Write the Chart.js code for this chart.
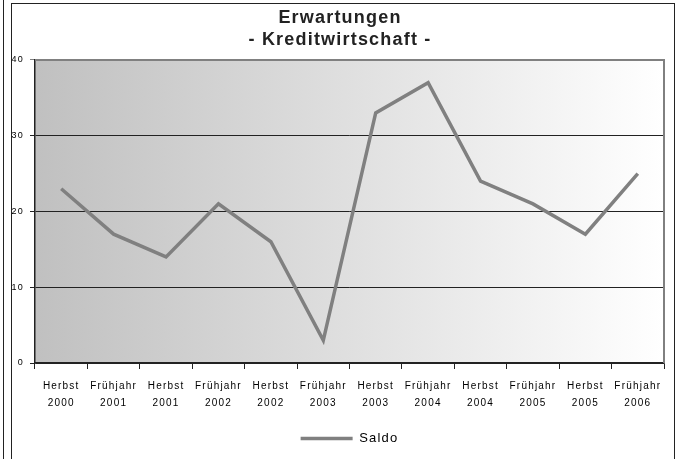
<!DOCTYPE html>
<html>
<head>
<meta charset="utf-8">
<script src="https://cdn.jsdelivr.net/npm/chart.js@4/dist/chart.umd.min.js"></script>
<style>
    body { margin: 0; background: #fff; }
    #wrap { position: relative; width: 679px; height: 459px; overflow: hidden; }
    canvas { position: absolute; left: 0; top: 0; }
    .frame { position: absolute; pointer-events: none; }
    #outerLine { left: 3px; top: 0; width: 1px; height: 459px; background: #222; }
    #chartBox { left: 11px; top: 3px; width: 662px; height: 470px; border: 1px solid #222; }
</style>
</head>
<body>
<div id="wrap">
    <canvas id="saldoChart" width="679" height="459"></canvas>
    <div class="frame" id="outerLine"></div>
    <div class="frame" id="chartBox"></div>
</div>
<script>
let seasons = ['Herbst', 'Frühjahr', 'Herbst', 'Frühjahr', 'Herbst', 'Frühjahr',
               'Herbst', 'Frühjahr', 'Herbst', 'Frühjahr', 'Herbst', 'Frühjahr'];
let years = ['2000', '2001', '2001', '2002', '2002', '2003',
             '2003', '2004', '2004', '2005', '2005', '2006'];
let saldo = [23, 17, 14, 21, 16, 3, 33, 37, 24, 21, 17, 25];
let yTicks = [0, 10, 20, 30, 40];

let labels = seasons.map((s, i) => [s, years[i]]);

// the old office export spaces its letters out a bit
const spacing = {
    id: 'spacing',
    beforeUpdate(chart) { chart.ctx.letterSpacing = '1.2px'; },
    beforeDraw(chart) { chart.ctx.letterSpacing = '1.2px'; }
};

// plot area: grey gradient behind, grey frame on top/right
const plotArea = {
    id: 'plotArea',
    beforeDraw(chart) {
        let a = chart.chartArea;
        let ctx = chart.ctx;
        let grad = ctx.createLinearGradient(a.left, 0, a.right, 0);
        grad.addColorStop(0, '#c0c0c0');
        grad.addColorStop(1, '#ffffff');
        ctx.save();
        ctx.fillStyle = grad;
        ctx.fillRect(a.left, a.top, a.right - a.left, a.bottom - a.top);
        ctx.restore();
    },
    afterDraw(chart) {
        let a = chart.chartArea;
        let ctx = chart.ctx;
        ctx.save();
        ctx.strokeStyle = '#808080';
        ctx.lineWidth = 2;
        ctx.beginPath();
        ctx.moveTo(a.left, a.top);
        ctx.lineTo(a.right, a.top);
        ctx.lineTo(a.right, a.bottom);
        ctx.stroke();
        ctx.restore();
    }
};

let ctx = document.getElementById('saldoChart').getContext('2d');
new Chart(ctx, {
    type: 'line',
    data: {
        labels: labels,
        datasets: [{
            label: 'Saldo',
            data: saldo,
            borderColor: '#808080',
            backgroundColor: '#808080',
            borderWidth: 3.5,
            pointRadius: 0,
            tension: 0,
            fill: false
        }]
    },
    options: {
        responsive: false,
        animation: false,
        layout: { padding: { left: 8, right: 7, top: 0, bottom: 4 } },
        plugins: {
            title: {
                display: true,
                text: ['Erwartungen', '- Kreditwirtschaft -'],
                color: '#222',
                font: { family: 'Liberation Sans, Arial', size: 18, weight: 'bold', lineHeight: 1.22 },
                padding: { top: 7.5, bottom: 8.5 }
            },
            legend: {
                position: 'bottom',
                fullSize: false,
                labels: {
                    usePointStyle: true,
                    pointStyle: 'line',
                    pointStyleWidth: 52,
                    color: '#000',
                    font: { family: 'Liberation Sans, Arial', size: 13 },
                    padding: 9
                }
            },
            tooltip: { enabled: false }
        },
        scales: {
            x: {
                offset: true,
                grid: {
                    offset: true,
                    drawOnChartArea: false,
                    drawTicks: true,
                    tickLength: 6,
                    color: '#222'
                },
                border: { display: true, color: '#222', width: 1.5 },
                ticks: {
                    color: '#000',
                    maxRotation: 0,
                    autoSkip: false,
                    padding: 9,
                    font: { family: 'Liberation Sans, Arial', size: 10, lineHeight: 1.7 }
                },
                afterFit(scale) { scale.height = 60; }
            },
            y: {
                min: 0,
                max: 40,
                afterBuildTicks(scale) { scale.ticks = yTicks.map(v => ({ value: v })); },
                grid: {
                    color: ctx => ctx.tick && ctx.tick.value === 40 ? '#808080' : '#222',
                    tickLength: 5,
                    lineWidth: 1
                },
                border: { display: true, color: '#222', width: 1.5 },
                ticks: {
                    color: '#000',
                    padding: 6,
                    font: { family: 'Liberation Sans, Arial', size: 9 }
                },
                afterFit(scale) { scale.width = 27; }
            },
            y2: {
                position: 'right',
                display: true,
                grid: { display: false },
                border: { display: false },
                ticks: { display: false },
                afterFit(scale) { scale.width = 8; }
            }
        }
    },
    plugins: [spacing, plotArea]
});
</script>
</body>
</html>
